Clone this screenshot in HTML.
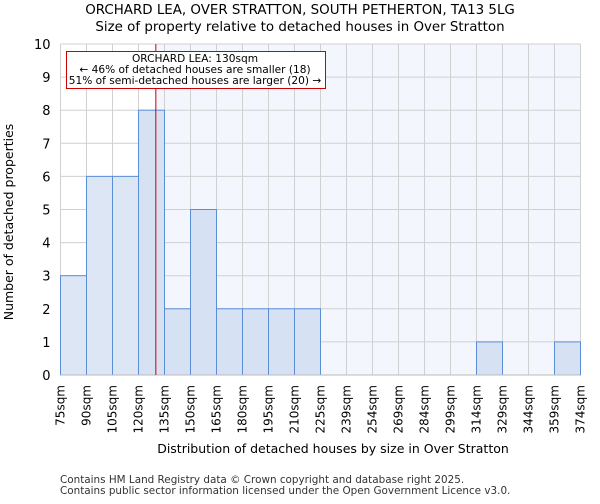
<!DOCTYPE html>
<html><head><meta charset="utf-8"><style>
body{margin:0;background:#fff;font-family:"DejaVu Sans","Liberation Sans",sans-serif}
</style></head><body>
<svg id="chart" width="600" height="500" xmlns="http://www.w3.org/2000/svg" font-family="DejaVu Sans, Liberation Sans, sans-serif">
<text x="300" y="14" text-anchor="middle" font-size="13.4">ORCHARD LEA, OVER STRATTON, SOUTH PETHERTON, TA13 5LG</text>
<text x="300" y="31" text-anchor="middle" font-size="13.4">Size of property relative to detached houses in Over Stratton</text>
<g id="plot"></g>
<text x="333" y="453" text-anchor="middle" font-size="12.5">Distribution of detached houses by size in Over Stratton</text>
<text transform="translate(13,222) rotate(-90)" text-anchor="middle" font-size="12.5">Number of detached properties</text>
<text x="60" y="483" font-size="10.4" fill="#333">Contains HM Land Registry data © Crown copyright and database right 2025.</text>
<text x="60" y="494" font-size="10.4" fill="#333">Contains public sector information licensed under the Open Government Licence v3.0.</text>
</svg>
<script>
const binLabels=["75sqm","90sqm","105sqm","120sqm","135sqm","150sqm","165sqm","180sqm","195sqm","210sqm","225sqm","239sqm","254sqm","269sqm","284sqm","299sqm","314sqm","329sqm","344sqm","359sqm","374sqm"];
const counts=[3,6,6,8,2,5,2,2,2,2,0,0,0,0,0,0,1,0,0,1];
const yTicks=[0,1,2,3,4,5,6,7,8,9,10];
const propertySize=130;
const binStart=75, binWidth=15;
const X0=60.5,X1=580.5,Y0=375,Y1=44,YMAX=10;
const n=counts.length;
const bw=(X1-X0)/n;
const xs=v=>X0+(v-binStart)/binWidth*bw;
const xi=i=>X0+i*bw;
const ys=v=>Y0-(v/YMAX)*(Y0-Y1);
const g=document.getElementById('plot');
const NS='http://www.w3.org/2000/svg';
function mk(t,a){const e=document.createElementNS(NS,t);for(const k in a)e.setAttribute(k,a[k]);g.appendChild(e);return e;}
const redX=xs(propertySize);
let e=mk('rect',{x:X0,y:Y1,width:X1-X0,height:Y0-Y1,fill:'#f3f6fd'});


e=mk('rect',{x:X0,y:Y1,width:redX-X0,height:Y0-Y1,fill:'#ffffff'});


for(let i=0;i<=n;i++){e=mk('line',{x1:xi(i),x2:xi(i),y1:Y1,y2:Y0,stroke:'#d0d0d0','stroke-width':1});

}
yTicks.forEach(t=>{e=mk('line',{x1:X0,x2:X1,y1:ys(t),y2:ys(t),stroke:'#d0d0d0','stroke-width':1});


const l=mk('text',{x:X0-10,y:ys(t)+5,'text-anchor':'end','font-size':13});l.textContent=t;

});
counts.forEach((c,i)=>{if(c<=0)return;
const left=xi(i)+bw<=redX+0.1;
const r=mk('rect',{x:xi(i),y:ys(c),width:bw,height:Y0-ys(c),fill:left?'#dde6f4':'#d6e2f4',stroke:'#5a8fd8','stroke-width':1});

});
binLabels.forEach((s,i)=>{const t=mk('text',{transform:`translate(${xi(i)+4},385) rotate(-90)`,'text-anchor':'end','font-size':12});t.textContent=s;

});
e=mk('line',{x1:X0,x2:X1,y1:Y0,y2:Y0,stroke:'#bbb','stroke-width':1});


e=mk('line',{x1:redX,x2:redX,y1:Y1,y2:Y0,stroke:'#cc0000','stroke-width':1});


e=mk('rect',{x:66.5,y:51.5,width:259,height:37,fill:'#fff',stroke:'#cc0000','stroke-width':1});


["ORCHARD LEA: 130sqm","← 46% of detached houses are smaller (18)","51% of semi-detached houses are larger (20) →"].forEach((s,k)=>{
const t=mk('text',{x:195,y:62+k*11,'text-anchor':'middle','font-size':10.6});t.textContent=s;

});
</script>
</body></html>
